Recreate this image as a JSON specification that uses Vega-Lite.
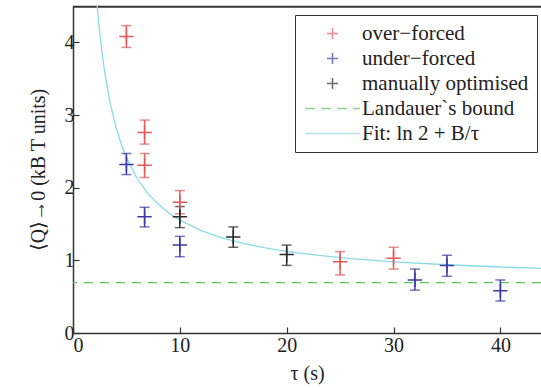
{
  "$schema": "https://vega.github.io/schema/vega-lite/v6.json",
  "width": 468,
  "height": 327,
  "autosize": "none",
  "padding": {"left": 73, "top": 6, "right": 0, "bottom": 55},
  "background": "white",
  "config": {
    "view": {"stroke": null},
    "font": "Liberation Serif",
    "axis": {
      "grid": false,
      "labelFont": "Liberation Serif",
      "titleFont": "Liberation Serif",
      "labelFontSize": 20,
      "titleFontSize": 20,
      "titleFontWeight": "normal",
      "labelColor": "#222",
      "titleColor": "#222",
      "domainColor": "#333",
      "domainWidth": 1.5,
      "tickColor": "#333",
      "tickWidth": 1.2,
      "tickSize": -6
    },
    "legend": {
      "labelFont": "Liberation Serif",
      "labelFontSize": 21,
      "labelColor": "#222",
      "labelLimit": 400
    }
  },
  "datasets": {
    "pts": [
      {"tau": 5, "Q": 4.08, "lo": 3.93, "hi": 4.23, "series": "over−forced"},
      {"tau": 6.7, "Q": 2.76, "lo": 2.6, "hi": 2.93, "series": "over−forced"},
      {"tau": 6.7, "Q": 2.31, "lo": 2.14, "hi": 2.47, "series": "over−forced"},
      {"tau": 10, "Q": 1.8, "lo": 1.64, "hi": 1.96, "series": "over−forced"},
      {"tau": 25, "Q": 0.98, "lo": 0.8, "hi": 1.12, "series": "over−forced"},
      {"tau": 30, "Q": 1.03, "lo": 0.88, "hi": 1.18, "series": "over−forced"},
      {"tau": 5, "Q": 2.32, "lo": 2.18, "hi": 2.47, "series": "under−forced"},
      {"tau": 6.7, "Q": 1.6, "lo": 1.46, "hi": 1.73, "series": "under−forced"},
      {"tau": 10, "Q": 1.21, "lo": 1.05, "hi": 1.33, "series": "under−forced"},
      {"tau": 32, "Q": 0.73, "lo": 0.59, "hi": 0.88, "series": "under−forced"},
      {"tau": 35, "Q": 0.93, "lo": 0.78, "hi": 1.07, "series": "under−forced"},
      {"tau": 40, "Q": 0.58, "lo": 0.44, "hi": 0.73, "series": "under−forced"},
      {"tau": 10, "Q": 1.6, "lo": 1.45, "hi": 1.74, "series": "manually optimised"},
      {"tau": 15, "Q": 1.32, "lo": 1.18, "hi": 1.46, "series": "manually optimised"},
      {"tau": 20, "Q": 1.08, "lo": 0.93, "hi": 1.21, "series": "manually optimised"}
    ],
    "fit": [
      {"tau": 2.25, "Q": 4.515}, {"tau": 2.5, "Q": 4.133}, {"tau": 2.75, "Q": 3.82},
      {"tau": 3, "Q": 3.56}, {"tau": 3.5, "Q": 3.15}, {"tau": 4, "Q": 2.843},
      {"tau": 4.5, "Q": 2.604}, {"tau": 5, "Q": 2.413}, {"tau": 6, "Q": 2.126},
      {"tau": 7, "Q": 1.922}, {"tau": 8, "Q": 1.768}, {"tau": 9, "Q": 1.649},
      {"tau": 10, "Q": 1.553}, {"tau": 12, "Q": 1.41}, {"tau": 14, "Q": 1.307},
      {"tau": 16, "Q": 1.231}, {"tau": 18, "Q": 1.171}, {"tau": 20, "Q": 1.123},
      {"tau": 23, "Q": 1.067}, {"tau": 26, "Q": 1.024}, {"tau": 30, "Q": 0.98},
      {"tau": 35, "Q": 0.939}, {"tau": 40, "Q": 0.908}, {"tau": 45, "Q": 0.884}
    ],
    "bound": [{"Q": 0.693}],
    "frame": [{"tau": 0, "tau2": 43.8, "Q": 4.49}]
  },
  "layer": [
    {
      "data": {"name": "bound"},
      "mark": {"type": "rule", "strokeDash": [9, 7], "strokeWidth": 1.3, "color": "#5cc85c"},
      "encoding": {
        "y": {"field": "Q", "type": "quantitative", "title": "⟨Q⟩→0 (kB T units)", "scale": {"domain": [0, 4.5], "nice": false}}
      }
    },
    {
      "data": {"name": "frame"},
      "mark": {"type": "rule", "strokeWidth": 2, "color": "#333"},
      "encoding": {
        "x": {"field": "tau", "type": "quantitative", "title": "τ (s)"},
        "x2": {"field": "tau2"},
        "y": {"field": "Q", "type": "quantitative", "title": "⟨Q⟩→0 (kB T units)"}
      }
    },
    {
      "data": {"name": "fit"},
      "mark": {"type": "line", "clip": true, "strokeWidth": 1.3, "color": "#8adbe4"},
      "encoding": {
        "x": {"field": "tau", "type": "quantitative", "title": "τ (s)"},
        "y": {"field": "Q", "type": "quantitative", "title": "⟨Q⟩→0 (kB T units)"}
      }
    },
    {
      "data": {"name": "pts"},
      "mark": {"type": "errorbar", "ticks": {"size": 10}, "thickness": 1.5},
      "encoding": {
        "x": {"field": "tau", "type": "quantitative", "title": "τ (s)"},
        "y": {"field": "lo", "type": "quantitative", "title": "⟨Q⟩→0 (kB T units)"},
        "y2": {"field": "hi"},
        "color": {"field": "series", "type": "nominal"}
      }
    },
    {
      "data": {"name": "pts"},
      "mark": {"type": "point", "filled": false, "size": 170, "strokeWidth": 1.5, "opacity": 1},
      "encoding": {
        "x": {
          "field": "tau", "type": "quantitative", "title": "τ (s)",
          "scale": {"domain": [0, 43.8], "nice": false},
          "axis": {"values": [0, 10, 20, 30, 40], "format": "d", "labelPadding": 8, "titlePadding": 8}
        },
        "y": {
          "field": "Q", "type": "quantitative", "title": "⟨Q⟩→0 (kB T units)",
          "axis": {"values": [0, 1, 2, 3, 4], "format": "d", "labelPadding": 5, "titlePadding": 16}
        },
        "color": {
          "field": "series", "type": "nominal",
          "scale": {
            "domain": ["over−forced", "under−forced", "manually optimised", "Landauer`s bound", "Fit: ln 2 + B/τ"],
            "range": ["#e05a5a", "#3a3aa8", "#2a2a2a", "#5cc85c", "#8adbe4"]
          },
          "legend": {
            "title": null,
            "orient": "none",
            "legendX": 222,
            "legendY": 9,
            "fillColor": "white",
            "strokeColor": "#333",
            "padding": 8,
            "symbolSize": 100,
            "symbolStrokeWidth": 1.5,
            "symbolOffset": 19,
            "labelOffset": 19,
            "rowPadding": 3
          }
        },
        "shape": {
          "field": "series", "type": "nominal",
          "scale": {
            "domain": ["over−forced", "under−forced", "manually optimised", "Landauer`s bound", "Fit: ln 2 + B/τ"],
            "range": ["M-1.1,0H1.1M0,-1.1V1.1", "M-1.1,0H1.1M0,-1.1V1.1", "M-1.1,0H1.1M0,-1.1V1.1", "M-5.5,0H-3.5M-2.3,0H-0.3M0.9,0H2.9M4.1,0H5.5", "M-5.5,0H5.5"]
          },
          "legend": {
            "title": null,
            "orient": "none",
            "legendX": 222,
            "legendY": 9,
            "fillColor": "white",
            "strokeColor": "#333",
            "padding": 8,
            "symbolSize": 100,
            "symbolStrokeWidth": 1.5,
            "symbolOffset": 19,
            "labelOffset": 19,
            "rowPadding": 3
          }
        }
      }
    }
  ]
}
